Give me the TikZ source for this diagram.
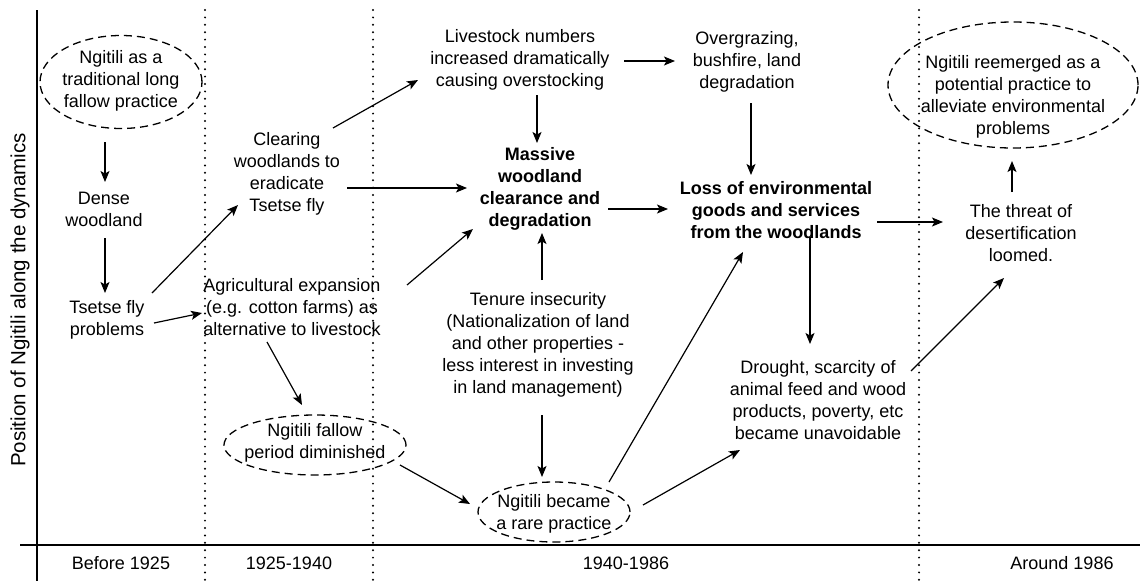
\documentclass[tikz,border=0pt]{standalone}
\usepackage{fontspec}
\setmainfont{Liberation Sans}
\usetikzlibrary{arrows.meta,calc,shapes.geometric}
\begin{document}
\begin{tikzpicture}[x=1pt,y=-1pt,
  txt/.style={align=center,font=\fontsize{18}{22}\selectfont,inner sep=0pt},
  btxt/.style={align=center,font=\fontsize{18}{22}\selectfont\bfseries,inner sep=0pt},
  oval/.style={ellipse,draw,line width=1.3pt,dash pattern=on 8pt off 5pt,inner sep=0pt},
  arr/.style={-{Stealth[length=11pt,width=9pt,inset=2.5pt]},line width=1.2pt},
  axis/.style={line width=1.5pt},
  period/.style={line width=2.2pt,dash pattern=on 0pt off 7.4pt,line cap=round},
  plabel/.style={font=\fontsize{18}{22}\selectfont,inner sep=0pt}]
\useasboundingbox (0,0) rectangle (1140,581);
% axes and period separators
\draw[axis] (37,10) -- (37,581);
\draw[axis] (20,545) -- (1140,545);
\draw[period] (205,10) -- (205,581);
\draw[period] (373,10) -- (373,581);
\draw[period] (919,10) -- (919,581);
\node[rotate=90,font=\fontsize{20.5}{24}\selectfont,inner sep=0pt] (ylab) at (20,300) {Position of Ngitili along the dynamics};
\node[plabel] (p1) at (121,563) {Before 1925};
\node[plabel] (p2) at (289,563) {1925-1940};
\node[plabel] (p3) at (626,563) {1940-1986};
\node[plabel] (p4) at (1062,563) {Around 1986};
% nodes
\node[oval,minimum width=162pt,minimum height=93pt] (n1) at (121,82) {};
\node[txt] (n1t) at (121,81) {Ngitili as a\\traditional long\\fallow practice};
\node[txt] (dense) at (104,209) {Dense\\woodland};
\node[txt] (tsetse) at (107,320) {Tsetse fly\\problems};
\node[txt] (clearing) at (287,174) {Clearing\\woodlands to\\eradicate\\Tsetse fly};
\node[txt] (agri) at (292,307) {Agricultural expansion\\(e.g. cotton farms) as\\alternative to livestock};
\node[oval,minimum width=182pt,minimum height=60pt] (fallow) at (315,445) {};
\node[txt] (fallowt) at (315,443) {Ngitili fallow\\period diminished};
\node[txt] (livestock) at (520,60) {Livestock numbers\\increased dramatically\\causing overstocking};
\node[btxt] (massive) at (540,189) {Massive\\woodland\\clearance and\\degradation};
\node[txt] (tenure) at (538,345) {Tenure insecurity\\(Nationalization of land\\and other properties -\\less interest in investing\\in land management)};
\node[oval,minimum width=152pt,minimum height=60pt] (rare) at (554,512) {};
\node[txt] (raret) at (554,514) {Ngitili became\\a rare practice};
\node[txt] (over) at (747,62) {Overgrazing,\\bushfire, land\\degradation};
\node[btxt] (loss) at (776,210) {Loss of environmental\\goods and services\\from the woodlands};
\node[txt] (drought) at (818,400) {Drought, scarcity of\\animal feed and wood\\products, poverty, etc\\became unavoidable};
\node[txt] (threat) at (1021,233) {The threat of\\desertification\\loomed.};
\node[oval,minimum width=250pt,minimum height=126pt] (reem) at (1013,85) {};
\node[txt] (reemt) at (1013,97) {Ngitili reemerged as a\\potential practice to\\alleviate environmental\\problems};
% connectors
\draw[arr] ($(n1)+(-16,60)$) -- ($(dense)+(1,-27)$);
\draw[arr] ($(dense)+(1,29)$) -- ($(tsetse)+(-2,-27)$);
\draw[arr] ($(tsetse)+(45,-27)$) -- ($(clearing)+(-49,31)$);
\draw[arr] ($(tsetse)+(47,3)$) -- ($(agri)+(-90,6)$);
\draw[arr] ($(agri)+(-25,35)$) -- ($(fallow)+(-13,-40)$);
\draw[arr] ($(clearing)+(46,-46)$) -- ($(livestock)+(-102,20)$);
\draw[arr] ($(clearing)+(60,14)$) -- ($(massive)+(-73,-1)$);
\draw[arr] ($(agri)+(115,-22)$) -- ($(massive)+(-67,40)$);
\draw[arr] ($(livestock)+(17,35)$) -- ($(massive)+(-3,-46)$);
\draw[arr] ($(tenure)+(4,-65)$) -- ($(massive)+(2,44)$);
\draw[arr] ($(tenure)+(4,70)$) -- ($(rare)+(-12,-35)$);
\draw[arr] ($(fallow)+(85,20)$) -- ($(rare)+(-84,-8)$);
\draw[arr] ($(livestock)+(104,1)$) -- ($(over)+(-72,-1)$);
\draw[arr] ($(over)+(4,41)$) -- ($(loss)+(-25,-35)$);
\draw[arr] ($(massive)+(68,20)$) -- ($(loss)+(-108,-1)$);
\draw[arr] ($(rare)+(55,-30)$) -- ($(loss)+(-33,42)$);
\draw[arr] ($(rare)+(89,-7)$) -- ($(drought)+(-78,50)$);
\draw[arr] ($(loss)+(101,12)$) -- ($(threat)+(-78,-11)$);
\draw[arr] ($(loss)+(34,27)$) -- ($(drought)+(-8,-56)$);
\draw[arr] ($(drought)+(93,-29)$) -- ($(threat)+(-17,45)$);
\draw[arr] ($(threat)+(-9,-41)$) -- ($(reem)+(-1,76)$);
\end{tikzpicture}
\end{document}
